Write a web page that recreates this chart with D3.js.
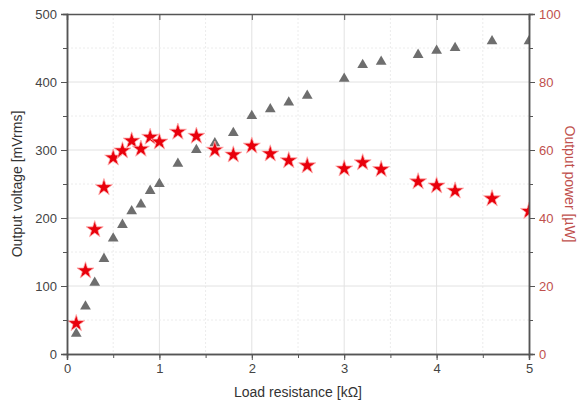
<!DOCTYPE html>
<html>
<head>
<script src="https://d3js.org/d3.v7.min.js"></script>
<style>
  body { margin: 0; background: #fff; }
  svg { font-family: "Liberation Sans", Arial, sans-serif; }
  .axis path, .axis line { stroke: #555; }
  .axis text { fill: #444; font-size: 13px; }
  .right text { fill: #c0504d; }
</style>
</head>
<body>
<div id="chart"></div>
<script>
// load resistance in kOhm
var resistance = [0.1, 0.2, 0.3, 0.4, 0.5, 0.6, 0.7, 0.8, 0.9, 1.0, 1.2, 1.4, 1.6, 1.8, 2.0, 2.2, 2.4, 2.6, 3.0, 3.2, 3.4, 3.8, 4.0, 4.2, 4.6, 5.0];
// output voltage in mVrms
var voltage = [30, 70, 105, 140, 170, 190, 210, 220, 240, 250, 280, 300, 310, 325, 350, 360, 370, 380, 405, 425, 430, 440, 446, 450, 460, 460];
// output power in uW
var power = [9, 24.5, 36.6, 49, 57.7, 59.8, 62.7, 60.3, 63.8, 62.4, 65.3, 64.1, 60, 58.6, 61.2, 58.9, 56.9, 55.4, 54.5, 56.3, 54.3, 50.7, 49.5, 48, 45.7, 42];

var xTicks = [0, 1, 2, 3, 4, 5];
var leftTicks = [0, 100, 200, 300, 400, 500];
var rightTicks = [0, 20, 40, 60, 80, 100];

var width = 581, height = 408;
var margin = { top: 14, right: 52, bottom: 54, left: 67 };
var w = width - margin.left - margin.right;
var h = height - margin.top - margin.bottom;

var svg = d3.select("#chart").append("svg")
    .attr("width", width)
    .attr("height", height)
    .append("g")
    .attr("transform", "translate(" + margin.left + "," + margin.top + ")");

var x = d3.scaleLinear().domain([0, 5]).range([0, w]);
var yL = d3.scaleLinear().domain([0, 500]).range([h, 0]);
var yR = d3.scaleLinear().domain([0, 100]).range([h, 0]);

// grid: solid at majors, dotted at minors
var grid = svg.append("g");
d3.range(0.5, 5, 0.5).forEach(function(v) {
    grid.append("line")
        .attr("x1", x(v)).attr("x2", x(v)).attr("y1", 0).attr("y2", h)
        .attr("stroke", v % 1 === 0 ? "#e2e2e2" : "#ececec")
        .attr("stroke-dasharray", v % 1 === 0 ? null : "2,2");
});
d3.range(50, 500, 50).forEach(function(v) {
    grid.append("line")
        .attr("y1", yL(v)).attr("y2", yL(v)).attr("x1", 0).attr("x2", w)
        .attr("stroke", v % 100 === 0 ? "#e2e2e2" : "#ececec")
        .attr("stroke-dasharray", v % 100 === 0 ? null : "2,2");
});

svg.append("clipPath").attr("id", "clip")
    .append("rect").attr("width", w).attr("height", h);

var data = resistance.map(function(r, i) {
    return { r: r, v: voltage[i], p: power[i] };
});

var plot = svg.append("g").attr("clip-path", "url(#clip)");

plot.selectAll(".tri")
    .data(data)
    .enter().append("path")
    .attr("class", "tri")
    .attr("d", d3.symbol().type(d3.symbolTriangle).size(50))
    .attr("transform", d => "translate(" + x(d.r) + "," + yL(d.v) + ")")
    .attr("fill", "#6e6e6e");

plot.selectAll(".star")
    .data(data)
    .enter().append("path")
    .attr("class", "star")
    .attr("d", d3.symbol().type(d3.symbolStar).size(90))
    .attr("transform", d => "translate(" + x(d.r) + "," + yR(d.p) + ")")
    .attr("fill", "#e8000b")
    .attr("stroke", "#ffb0b0")
    .attr("stroke-width", 0.8);

// axes
var minorX = d3.range(0, 5.01, 0.5);
svg.append("g")
    .attr("class", "axis")
    .attr("transform", "translate(0," + h + ")")
    .call(d3.axisBottom(x).tickValues(minorX).tickSize(4).tickFormat(""));
svg.append("g")
    .attr("class", "axis")
    .attr("transform", "translate(0," + h + ")")
    .call(d3.axisBottom(x).tickValues(xTicks).tickSize(6).tickPadding(4).tickFormat(d3.format("d")));

svg.append("g")
    .attr("class", "axis")
    .call(d3.axisLeft(yL).tickValues(d3.range(0, 501, 50)).tickSize(4).tickFormat(""));
svg.append("g")
    .attr("class", "axis")
    .call(d3.axisLeft(yL).tickValues(leftTicks).tickSize(6).tickPadding(4));

svg.append("g")
    .attr("class", "axis right")
    .attr("transform", "translate(" + w + ",0)")
    .call(d3.axisRight(yR).tickValues(d3.range(0, 101, 10)).tickSize(4).tickFormat(""));
svg.append("g")
    .attr("class", "axis right")
    .attr("transform", "translate(" + w + ",0)")
    .call(d3.axisRight(yR).tickValues(rightTicks).tickSize(6).tickPadding(4));

// top frame with inward ticks
svg.append("g")
    .attr("class", "axis")
    .call(d3.axisTop(x).tickValues(xTicks).tickSize(-6).tickFormat(""));

svg.selectAll(".axis path").attr("stroke-width", 1.5);

// titles
svg.append("text")
    .attr("transform", "translate(" + (w / 2) + "," + (h + 43) + ")")
    .style("text-anchor", "middle")
    .style("font-size", "14px")
    .attr("fill", "#333")
    .text("Load resistance [kΩ]");

svg.append("text")
    .attr("transform", "rotate(-90)")
    .attr("x", -h / 2)
    .attr("y", -margin.left + 22)
    .style("text-anchor", "middle")
    .style("font-size", "14px")
    .attr("fill", "#333")
    .text("Output voltage [mVrms]");

svg.append("text")
    .attr("transform", "translate(" + (w + 36) + "," + (h / 2) + ") rotate(90)")
    .style("text-anchor", "middle")
    .style("font-size", "14px")
    .attr("fill", "#c0504d")
    .text("Output power [µW]");
</script>
</body>
</html>
